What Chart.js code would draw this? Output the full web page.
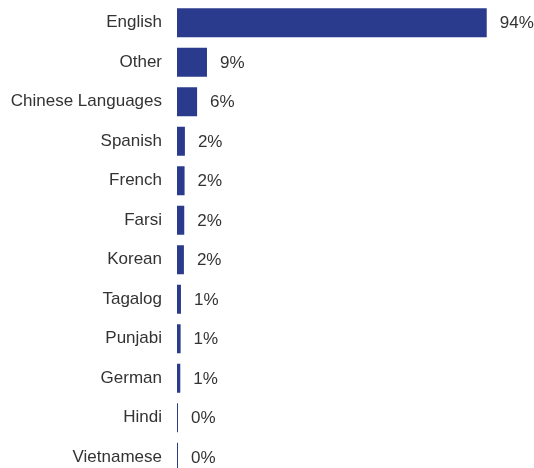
<!DOCTYPE html>
<html>
<head>
<meta charset="utf-8">
<script src="https://cdn.jsdelivr.net/npm/chart.js@4.4.0/dist/chart.umd.min.js"></script>
<style>
  html, body { margin: 0; padding: 0; background: #fff; overflow: hidden; }
  #wrap { width: 534px; height: 478px; }
</style>
</head>
<body>
<div id="wrap"><canvas id="chart-langs"></canvas></div>
<script>
var languages = ['English', 'Other', 'Chinese Languages', 'Spanish', 'French', 'Farsi',
                 'Korean', 'Tagalog', 'Punjabi', 'German', 'Hindi', 'Vietnamese'];
var shares = [94, 9.1, 6.1, 2.4, 2.3, 2.2, 2.1, 1.2, 1.1, 1.0, 0.3, 0.3];

// Draw "NN%" after each bar
var valueLabels = {
  id: 'valueLabels',
  afterDatasetsDraw: function(chart) {
    var ctx = chart.ctx;
    var meta = chart.getDatasetMeta(0);
    ctx.save();
    ctx.font = '17px "Liberation Sans", Arial, sans-serif';
    ctx.fillStyle = '#333';
    ctx.textBaseline = 'middle';
    ctx.textAlign = 'left';
    meta.data.forEach(function(bar, i) {
      ctx.fillText(Math.round(shares[i]) + '%', bar.x + 13, bar.y + 1);
    });
    ctx.restore();
  }
};

new Chart(document.getElementById('chart-langs').getContext('2d'), {
  type: 'bar',
  data: {
    labels: languages,
    datasets: [{
      data: shares,
      backgroundColor: '#2a3b8d',
      borderWidth: 0,
      categoryPercentage: 1,
      barPercentage: 0.73
    }]
  },
  options: {
    indexAxis: 'y',
    responsive: true,
    maintainAspectRatio: false,
    animation: false,
    layout: { padding: { top: 3, right: 27.5, bottom: 1, left: 0 } },
    plugins: { legend: { display: false }, tooltip: { enabled: false } },
    scales: {
      x: { display: false, min: 0, max: 100 },
      y: {
        grid: { display: false, drawTicks: false },
        border: { display: false },
        ticks: {
          color: '#333',
          padding: 15,
          font: { family: '"Liberation Sans", Arial, sans-serif', size: 17 }
        },
        afterFit: function(scale) {
          scale.width = 177;
          // tick padding should not eat vertical space
          scale.paddingTop = 0;
          scale.paddingBottom = 0;
        }
      }
    }
  },
  plugins: [valueLabels]
});
</script>
</body>
</html>
